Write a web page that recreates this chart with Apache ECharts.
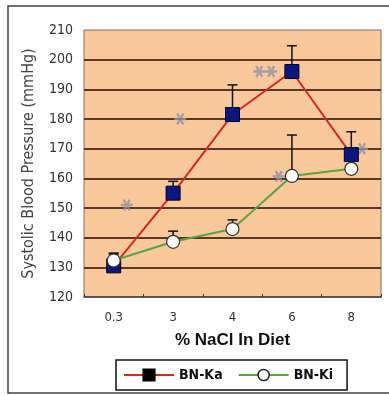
<!DOCTYPE html>
<html>
<head>
<meta charset="utf-8">
<script src="https://cdn.jsdelivr.net/npm/echarts@6/dist/echarts.min.js"></script>
<style>html,body{margin:0;padding:0;background:#fff}#c{width:389px;height:396px}</style>
</head>
<body>
<div id="c"></div>
<script>
var categories = ['0.3', '3', '4', '6', '8'];
var kaMean = [130.5, 155, 181.5, 196, 168];
var kaUpper = [134.5, 159, 191.5, 204.7, 175.7];
var kiMean = [132.3, 138.6, 142.9, 160.8, 163.2];
var kiUpper = [134.8, 142.2, 146, 174.6, null];
var sigX = [0.72, 1.62, 2.95, 3.15, 3.28, 4.68];
var sigY = [151, 180, 196, 196, 160.6, 170];
var yTicks = [120, 130, 140, 150, 160, 170, 180, 190, 200, 210];

var FONT = '"Liberation Sans Narrow", "DejaVu Sans Condensed", "Liberation Sans", Arial, sans-serif';
var STAR = 'path://M0,4 L10,4 L10,6 L0,6 Z M3.37,0.17 L8.37,8.83 L6.63,9.83 L1.63,1.17 Z M8.37,1.17 L3.37,9.83 L1.63,8.83 L6.63,0.17 Z';

function errData(mean, upper) {
  var out = [];
  for (var i = 0; i < mean.length; i++) {
    if (upper[i] != null) out.push([i, mean[i], upper[i]]);
  }
  return out;
}
function renderErr(params, api) {
  var p0 = api.coord([api.value(0), api.value(1)]);
  var p1 = api.coord([api.value(0), api.value(2)]);
  var style = { stroke: '#111', lineWidth: 1.5 };
  return {
    type: 'group',
    children: [
      { type: 'line', shape: { x1: p0[0], y1: p0[1], x2: p1[0], y2: p1[1] }, style: style },
      { type: 'line', shape: { x1: p1[0] - 5, y1: p1[1], x2: p1[0] + 5, y2: p1[1] }, style: style }
    ]
  };
}

var chart = echarts.init(document.getElementById('c'), null, { renderer: 'canvas' });
chart.setOption({
  animation: false,
  backgroundColor: '#ffffff',
  graphic: [{
    type: 'rect', z: -10,
    shape: { x: 8, y: 6, width: 392, height: 387 },
    style: { fill: 'none', stroke: '#444', lineWidth: 1.5 }
  }],
  grid: {
    left: 84, top: 30, width: 297, height: 267,
    show: true, backgroundColor: '#f9c99c', borderColor: '#8a6f5a', borderWidth: 1
  },
  legend: {
    left: 116, top: 360,
    orient: 'horizontal',
    borderColor: '#111', borderWidth: 1.5,
    padding: [8, 14, 8, 7],
    itemWidth: 50, itemHeight: 14, itemGap: 15,
    textStyle: { fontFamily: FONT, fontSize: 14, fontWeight: 'bold', color: '#111' },
    data: [
      { name: 'BN-Ka', itemStyle: { color: '#000', borderColor: '#000' } },
      { name: 'BN-Ki', itemStyle: { color: '#fff', borderColor: '#222', borderWidth: 1.5 } }
    ]
  },
  xAxis: [{
    type: 'category',
    data: categories,
    boundaryGap: true,
    name: '% NaCl In Diet',
    nameLocation: 'middle',
    nameGap: 35,
    nameTextStyle: { fontFamily: 'Liberation Sans, Arial, sans-serif', fontSize: 17, fontWeight: 'bold', color: '#111' },
    axisLine: { show: true, lineStyle: { color: '#3a3a3a', width: 1.5 } },
    axisTick: { show: true, inside: true, length: 3, lineStyle: { color: '#3a3a3a' } },
    axisLabel: { fontFamily: FONT, fontSize: 13, color: '#333', margin: 14 },
    splitLine: { show: false }
  }, {
    type: 'value', min: 0, max: 5, show: false
  }],
  yAxis: {
    type: 'value',
    min: yTicks[0], max: yTicks[yTicks.length - 1], interval: 10,
    name: 'Systolic Blood Pressure (mmHg)',
    nameLocation: 'middle',
    nameGap: 47,
    nameTextStyle: { fontFamily: FONT, fontSize: 16, color: '#444' },
    axisLine: { show: false },
    axisTick: { show: false },
    axisLabel: { fontFamily: FONT, fontSize: 14, color: '#333', margin: 11 },
    splitLine: { show: true, showMinLine: false, showMaxLine: false, lineStyle: { color: '#5a3a26', width: 2 } }
  },
  series: [
    {
      type: 'custom', name: 'errKa', xAxisIndex: 0, z: 1,
      renderItem: renderErr, data: errData(kaMean, kaUpper), silent: true
    },
    {
      type: 'custom', name: 'errKi', xAxisIndex: 0, z: 1,
      renderItem: renderErr, data: errData(kiMean, kiUpper), silent: true
    },
    {
      name: 'BN-Ka', type: 'line', xAxisIndex: 0, z: 3,
      data: kaMean,
      symbol: 'rect', symbolSize: 14,
      lineStyle: { color: '#d62a1c', width: 2 },
      itemStyle: { color: '#0b177e', borderColor: '#00002a', borderWidth: 1 }
    },
    {
      name: 'BN-Ki', type: 'line', xAxisIndex: 0, z: 4,
      data: kiMean,
      symbol: 'circle', symbolSize: 13,
      lineStyle: { color: '#5aa442', width: 2 },
      itemStyle: { color: '#ffffff', borderColor: '#333', borderWidth: 1.2 }
    },
    {
      name: 'sig', type: 'scatter', xAxisIndex: 1, z: 2,
      data: sigX.map(function (x, i) { return [x, sigY[i]]; }),
      symbol: STAR, symbolSize: 12,
      itemStyle: { color: '#9494a4' },
      silent: true
    }
  ]
});
</script>
</body>
</html>
